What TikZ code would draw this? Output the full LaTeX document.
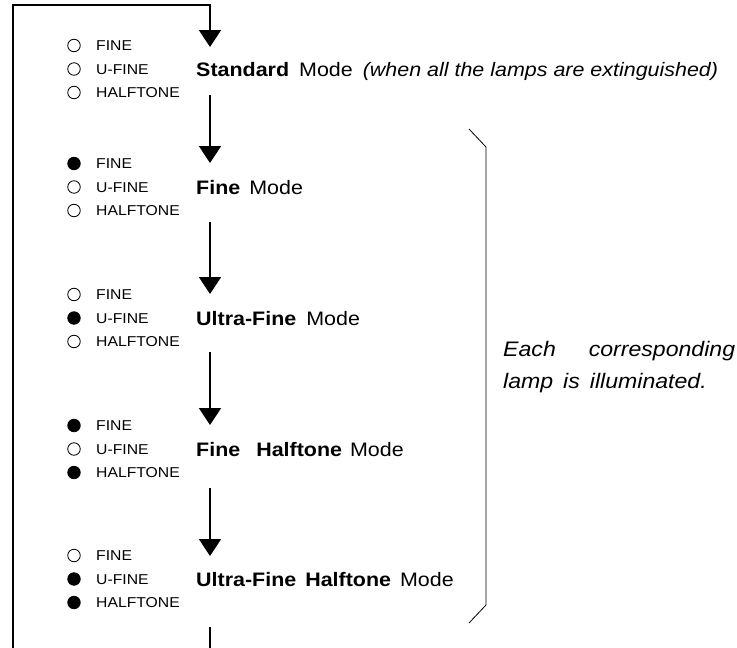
\documentclass[tikz,border=0pt]{standalone}
\usepackage{fontspec}
\setmainfont[FakeStretch=1.1]{Liberation Sans}
\usetikzlibrary{arrows.meta}
\newcommand{\lampgroup}[5]{%
  % #1 name, #2 y of middle row, #3 #4 #5 styles (lampon/lampoff)
  \node[#3] (#1-a) at (74,#2-23.5) {};
  \node[#4] (#1-b) at (74,#2) {};
  \node[#5] (#1-c) at (74,#2+23.5) {};
  \node[lamplabel] (#1-at) at (96,#2-23.5+5.2) {FINE};
  \node[lamplabel] (#1-bt) at (96,#2+5.2) {U-FINE};
  \node[lamplabel] (#1-ct) at (96,#2+23.5+5.2) {HALFTONE};
}
\begin{document}
\begin{tikzpicture}[x=1pt,y=-1pt,
  loopline/.style={line width=1.8pt,line join=miter},
  flow/.style={line width=1.8pt,line join=miter,-{Triangle[width=22pt,length=17pt]}},
  lampoff/.style={circle,draw,line width=0.8pt,fill=white,minimum size=12.5pt,inner sep=0pt},
  lampon/.style={circle,draw,line width=0.8pt,fill=black,minimum size=12.5pt,inner sep=0pt},
  lamplabel/.style={anchor=base west,inner sep=0pt,font=\fontsize{14.3}{15}\selectfont},
  modelabel/.style={anchor=base west,inner sep=0pt,font=\fontsize{19.5}{21}\selectfont},
  bracketline/.style={line width=0.8pt}]
\useasboundingbox (0,0) rectangle (737,648);

% lamp groups
\lampgroup{std}{69}{lampoff}{lampoff}{lampoff}
\lampgroup{fin}{187}{lampon}{lampoff}{lampoff}
\lampgroup{ufn}{318}{lampoff}{lampon}{lampoff}
\lampgroup{fht}{449}{lampon}{lampoff}{lampon}
\lampgroup{uht}{579}{lampoff}{lampon}{lampon}

% mode labels
\node[modelabel] (m1) at (196,69+7) {\textbf{Standard}\hspace{10pt}Mode\hspace{10pt}{\itshape (when all the lamps are extinguished)}};
\node[modelabel] (m2) at (196,187+7) {\textbf{Fine}\hspace{9pt}Mode};
\node[modelabel] (m3) at (196,318+7) {\textbf{Ultra-Fine}\hspace{10pt}Mode};
\node[modelabel] (m4) at (196,449+7) {\textbf{Fine}\hspace{16pt}\textbf{Halftone}\hspace{8pt}Mode};
\node[modelabel] (m5) at (196,579+7) {\textbf{Ultra-Fine}\hspace{9pt}\textbf{Halftone}\hspace{9pt}Mode};

% flow coordinates
\coordinate (bl) at (13,648);
\coordinate (tl) at (13,5);
\coordinate (tr) at (210,5);
\coordinate (std-in) at (210,47);
\coordinate (std-out) at (210,95);
\coordinate (fin-in) at (210,163);
\coordinate (fin-out) at (210,222);
\coordinate (ufn-in) at (210,294);
\coordinate (ufn-out) at (210,352);
\coordinate (fht-in) at (210,425);
\coordinate (fht-out) at (210,488);
\coordinate (uht-in) at (210,556);
\coordinate (uht-out) at (210,627);
\coordinate (br) at (210,648);

\draw[flow] (bl) -- (tl) -- (tr) -- (std-in);
\draw[flow] (std-out) -- (fin-in);
\draw[flow] (fin-out) -- (ufn-in);
\draw[flow] (ufn-out) -- (fht-in);
\draw[flow] (fht-out) -- (uht-in);
\draw[loopline] (uht-out) -- (br);

% bracket
\coordinate (k1) at (469,129);
\coordinate (k2) at (486,147);
\coordinate (k3) at (486,605);
\coordinate (k4) at (469,623);
\draw[bracketline] (k1) -- (k2) -- (k3) -- (k4);

\node[anchor=north west,text width=232pt,align=left,inner sep=0pt,
  font=\itshape\fontsize{21}{32}\selectfont] (note) at (503,341)
  {\spaceskip=10pt Each\hfill corresponding\\lamp is illuminated.};
\end{tikzpicture}
\end{document}
